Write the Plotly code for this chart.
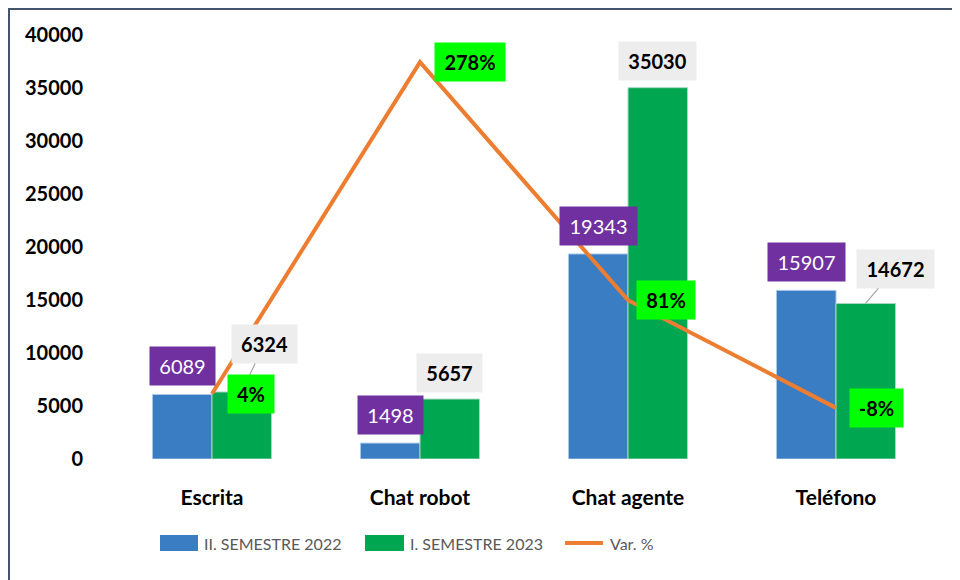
import plotly.graph_objects as go

# ---------------- data ----------------
categories = ["Escrita", "Chat robot", "Chat agente", "Teléfono"]
sem_2022 = [6089, 1498, 19343, 15907]
sem_2023 = [6324, 5657, 35030, 14672]
var_pct = [3.9, 277.6, 81.1, -7.8]
var_labels = ["4%", "278%", "81%", "-8%"]
y_ticks = [0, 5000, 10000, 15000, 20000, 25000, 30000, 35000, 40000]
series_names = ["II. SEMESTRE 2022", "I. SEMESTRE 2023", "Var. %"]

# ---------------- layout geometry (page pixels) ----------------
W, H = 960, 580
OFF = 8                      # page body margin
L, R, T, B = 108, 940, 35, 459  # plot area in page pixels


def px(x):
    return (x - L) / (R - L)


def py(y):
    return (B - y) / (B - T)


BLUE = "#3A7DC2"
GREEN = "#00A650"
ORANGE = "#ED7D31"
PURPLE = "#7030A0"
LIME = "#00FF00"
GREYBOX = "#EDEDED"
FONT = "Lato"

fig = go.Figure()
fig.add_trace(go.Bar(
    x=categories, y=sem_2022, name=series_names[0],
    marker=dict(color=BLUE, line=dict(color="#A9C8E8", width=1)),
    showlegend=False,
))
fig.add_trace(go.Bar(
    x=categories, y=sem_2023, name=series_names[1],
    marker=dict(color=GREEN, line=dict(color="#A9D8C0", width=1)),
    showlegend=False,
))
fig.add_trace(go.Scatter(
    x=categories, y=var_pct, name=series_names[2], yaxis="y2",
    mode="lines", line=dict(color=ORANGE, width=4),
    showlegend=False,
))

annotations = []
half = 29.5

# blue bar labels (purple boxes)
for c, v in zip(categories, sem_2022):
    s = str(v)
    annotations.append(dict(
        x=c, y=v, xref="x", yref="y", xshift=-half, yshift=28,
        showarrow=False, text=s, xanchor="center", yanchor="middle",
        bgcolor=PURPLE, width=12 * len(s) + 17, height=38, borderpad=0,
        font=dict(family=FONT, size=20, color="white"),
    ))

# green bar labels (grey boxes)
green_offsets = [(23, -48, True), (0, -26, False), (0, -27, False), (29.5, -34.5, True)]
for c, v, (dx, dy, arrow) in zip(categories, sem_2023, green_offsets):
    s = str(v)
    a = dict(
        x=c, y=v, xref="x", yref="y", xshift=half,
        text=s, bgcolor=GREYBOX, width=12 * len(s) + 17, height=38, borderpad=0,
        font=dict(family=FONT, size=20, color="black", weight="bold"),
        xanchor="center", yanchor="middle",
    )
    if arrow:
        a.update(showarrow=True, ax=dx, ay=dy, arrowhead=0, arrowwidth=1.2,
                 arrowcolor="#A6A6A6", standoff=0)
    else:
        a.update(showarrow=False, yshift=-dy, xshift=half + dx)
    annotations.append(a)

# line labels (lime boxes)
line_dx = [39, 50, 38, 40.5]
line_w = [46, 70, 58, 53]
for c, v, lab, dx, w in zip(categories, var_pct, var_labels, line_dx, line_w):
    annotations.append(dict(
        x=c, y=v, xref="x", yref="y2", xshift=dx, showarrow=False,
        text=lab, bgcolor=LIME, width=w, height=38, borderpad=0,
        xanchor="center", yanchor="middle",
        font=dict(family=FONT, size=20, color="black", weight="bold"),
    ))

# custom legend texts
leg_text_x = [202, 408, 608]
for name, lx in zip(series_names, leg_text_x):
    annotations.append(dict(
        x=px(lx), y=py(543), xref="paper", yref="paper", showarrow=False,
        text=name, xanchor="left", yanchor="middle",
        font=dict(family=FONT, size=16, color="#595959"),
    ))

shapes = [
    # outer frame
    dict(type="rect", xref="paper", yref="paper",
         x0=px(9), x1=px(990), y0=py(620), y1=py(9),
         line=dict(color="#44546A", width=2), fillcolor="rgba(0,0,0,0)", layer="below"),
    # legend swatches
    dict(type="rect", xref="paper", yref="paper",
         x0=px(160), x1=px(198), y0=py(551), y1=py(535),
         fillcolor=BLUE, line=dict(width=0)),
    dict(type="rect", xref="paper", yref="paper",
         x0=px(365), x1=px(404), y0=py(551), y1=py(535),
         fillcolor=GREEN, line=dict(width=0)),
    dict(type="line", xref="paper", yref="paper",
         x0=px(565), x1=px(603), y0=py(543), y1=py(543),
         line=dict(color=ORANGE, width=4)),
]

fig.update_layout(
    width=W, height=H, autosize=False,
    margin=dict(l=L - OFF, r=W + OFF - R, t=T - OFF, b=H + OFF - B, pad=0),
    paper_bgcolor="white", plot_bgcolor="white",
    barmode="group", bargap=0.428, bargroupgap=0,
    showlegend=False,
    xaxis=dict(
        showgrid=False, zeroline=False, showline=False,
        ticks="outside", ticklen=20, tickcolor="rgba(0,0,0,0)",
        tickfont=dict(family=FONT, size=21, color="black", weight="bold"),
    ),
    yaxis=dict(
        range=[0, 40000], tickvals=y_ticks, ticktext=[str(t) for t in y_ticks],
        showgrid=False, zeroline=False, showline=False,
        ticks="outside", ticklen=20, tickcolor="rgba(0,0,0,0)",
        tickfont=dict(family=FONT, size=20, color="black", weight="bold"),
    ),
    yaxis2=dict(range=[-50, 300], overlaying="y", visible=False,
                showgrid=False, zeroline=False),
    annotations=annotations,
    shapes=shapes,
)

fig.write_html("out.html")
